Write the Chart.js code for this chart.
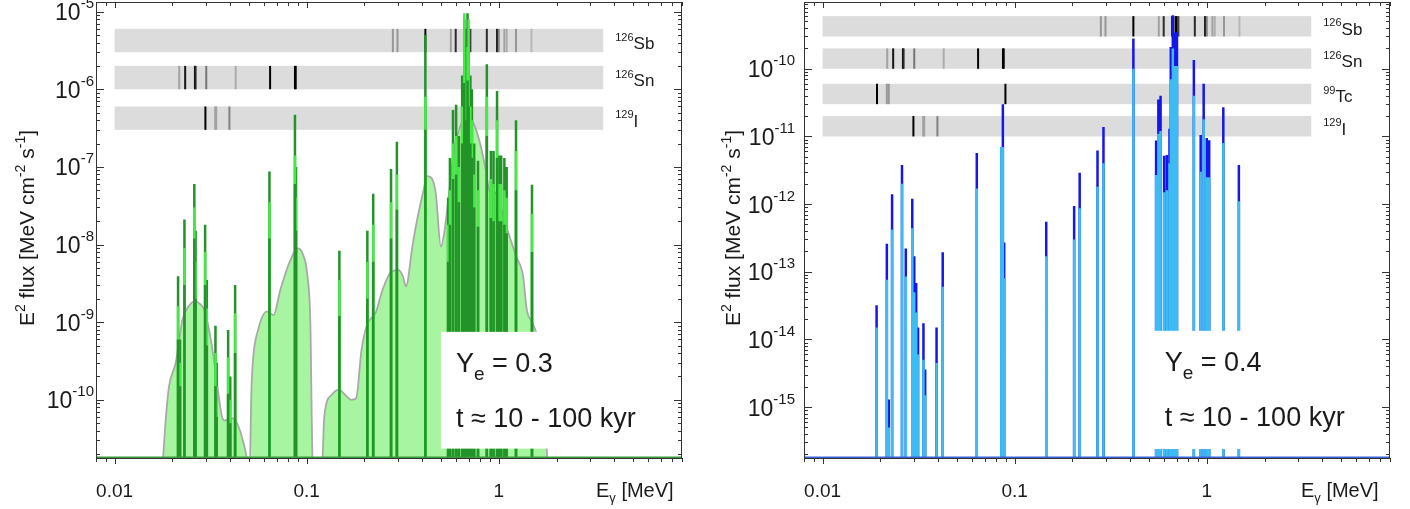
<!DOCTYPE html>
<html>
<head>
<meta charset="utf-8">
<script src="https://cdn.jsdelivr.net/npm/chart.js"></script>
<style>
  body { margin: 0; background: #fff; width: 1410px; height: 509px; overflow: hidden; position: relative; }
  canvas { position: absolute; top: 0; }
  #left { left: 0; }
  #right { left: 705px; }
</style>
</head>
<body>
<canvas id="left" width="705" height="509"></canvas>
<canvas id="right" width="705" height="509"></canvas>

<script>
    // energy axis (MeV), same for both panels
    const xMin = 0.008, xMax = 9;
    const xTickVals = [0.01, 0.1, 1];
    const xTickLabels = ['0.01', '0.1', '1'];

    // isotope marker bands span this energy range
    const bandFrom = 0.01, bandTo = 3.5;

    // gamma lines drawn in the grey bands, with darkness 0..1
    const sb126E = [0.281, 0.297, 0.415, 0.563, 0.597, 0.661, 0.666, 0.688, 0.697, 0.712, 0.867, 0.98, 1.0, 1.07, 1.1, 1.23, 1.48];
    const sb126W = [0.3, 0.3, 1, 0.25, 0.8, 1, 1, 1, 1, 0.7, 0.8, 0.9, 0.4, 0.25, 0.2, 0.3, 0.15];
    const sn126E = [0.0217, 0.0233, 0.0262, 0.0264, 0.0300, 0.0427, 0.0645, 0.0869, 0.0877];
    const sn126W = [0.25, 0.9, 1, 0.8, 0.45, 0.2, 1, 1, 1];
    const tc99E = [0.0192, 0.0216, 0.0221, 0.0895];
    const tc99W = [1, 0.3, 0.3, 1];
    const i129E = [0.0297, 0.0334, 0.0338, 0.0396];
    const i129W = [1, 0.25, 0.25, 0.4];

    // ---- left panel, Ye = 0.3 ----
    const yMinL = 1.78e-11, yMaxL = 1.33e-5;
    const yExpL = [-5, -6, -7, -8, -9, -10];

    // broad (grey outlined) component
    const contE = [0.0178, 0.0185, 0.0192, 0.0208, 0.0225, 0.0243, 0.0262, 0.028, 0.0294, 0.0319, 0.0345, 0.036, 0.0374, 0.04, 0.042, 0.045, 0.048, 0.0497,
        0.0506, 0.0515, 0.0525, 0.0558, 0.062, 0.0672, 0.0729, 0.0812, 0.0894, 0.0952, 0.101, 0.1045, 0.1075, 0.114,
        0.1205, 0.1235, 0.135, 0.147, 0.162, 0.171, 0.181, 0.193, 0.206, 0.23, 0.248, 0.277, 0.3, 0.317, 0.329, 0.355, 0.37, 0.403, 0.424, 0.45, 0.47,
        0.5, 0.52, 0.556, 0.585, 0.63, 0.68, 0.74, 0.8, 0.85, 0.9, 0.95, 1.02, 1.11, 1.23, 1.34, 1.4, 1.5, 1.57, 1.66, 1.74, 1.79];
    const contV = [1.5e-11, 6e-11, 1.5e-10, 3e-10, 1.05e-9, 1.6e-9, 1.85e-9, 1.7e-9, 1.4e-9, 5.4e-10, 1.35e-10, 6.5e-11, 5.4e-11, 5.8e-11, 5.6e-11, 4e-11, 2.2e-11, 1.5e-11,
        1.5e-11, 1.2e-10, 3.2e-10, 7.9e-10, 1.37e-9, 1.24e-9, 2.6e-9, 5.8e-9, 8.9e-9, 7.7e-9, 3.9e-9, 1e-9, 1.5e-11, 1e-11,
        1.5e-11, 6.1e-11, 1.16e-10, 1.35e-10, 1.1e-10, 1e-10, 1.05e-10, 4.4e-10, 9.2e-10, 1.37e-9, 2.6e-9, 4.5e-9, 4.7e-9, 3.9e-9, 2.9e-9, 9.4e-9, 1.7e-8, 4.6e-8, 7.6e-8, 7e-8, 4.6e-8,
        9.4e-9, 1.4e-8, 5.6e-8, 1.66e-7, 3.3e-7, 4.5e-7, 3.6e-7, 2e-7, 1e-7, 4.8e-8, 4.8e-8, 3.1e-8, 1.55e-8, 7.1e-9, 3.9e-9, 1.45e-9, 9.8e-10, 7.2e-10, 3.7e-10, 1e-10, 1.5e-11];

    // narrow lines: dark top, bright middle part, dark lower part
    const lineE = [0.0214, 0.0219, 0.0231, 0.0260, 0.0264, 0.0296, 0.0302, 0.0335, 0.0340, 0.0390, 0.0400, 0.0424, 0.0640, 0.0869, 0.0880,
        0.148, 0.207, 0.222, 0.275, 0.295, 0.415, 0.545, 0.557, 0.578, 0.600, 0.620, 0.645, 0.662, 0.676, 0.688, 0.697, 0.712, 0.725,
        0.745, 0.780, 0.867, 0.910, 0.940, 0.980, 1.000, 1.030, 1.070, 1.100, 1.230, 1.490];
    const lineA = [3.9e-9, 6e-10, 2.1e-8, 6e-8, 1.5e-8, 1.8e-8, 3.5e-9, 9e-10, 3e-10, 7.9e-10, 2e-10, 3e-9, 8.7e-8, 4.7e-7, 1e-7,
        8.3e-9, 1.5e-8, 4.5e-8, 9.4e-8, 2.1e-7, 5e-6, 4e-8, 1.3e-7, 5.4e-7, 6.3e-7, 2.5e-7, 1.5e-6, 8e-6, 3e-6, 9.5e-6, 4e-6, 1.5e-6, 1e-6,
        2e-7, 1.2e-7, 2.1e-6, 1.6e-7, 1.6e-7, 9.5e-7, 1.4e-7, 1.4e-7, 1.3e-7, 1e-7, 4e-7, 5.9e-8];
    const lineB = [1.6e-9, 3e-10, 9e-9, 3e-8, 6e-9, 8e-9, 1.5e-9, 4e-10, 1.5e-10, 3.5e-10, 1e-10, 1.3e-9, 3.5e-8, 1.4e-7, 4e-8,
        3.5e-9, 6e-9, 1.8e-8, 3.5e-8, 8e-8, 8e-7, 1.8e-8, 5e-8, 2e-7, 2.5e-7, 1e-7, 6e-7, 9.5e-6, 1.2e-6, 3.5e-6, 8e-6, 6e-7, 4e-7,
        8e-8, 5e-8, 8e-7, 7e-8, 6e-8, 4e-7, 6e-8, 6e-8, 5e-8, 4e-8, 1.6e-7, 2.5e-8];
    const lineC = [6e-10, 1.5e-10, 3e-9, 1.2e-8, 2e-9, 3e-9, 5e-10, 1.5e-10, 6e-11, 1.2e-10, 5e-11, 4e-10, 1.2e-8, 6e-8, 1.5e-8,
        1.2e-9, 2e-9, 6e-9, 1.2e-8, 2.8e-8, 3e-7, 6e-9, 1.8e-8, 7e-8, 8e-8, 3.5e-8, 2e-7, 1.2e-6, 4e-7, 1.3e-6, 6e-7, 2e-7, 1.3e-7,
        3e-8, 1.7e-8, 2.5e-7, 2.2e-8, 2e-8, 1.3e-7, 2e-8, 2e-8, 1.8e-8, 1.4e-8, 5e-8, 8e-9];

    // ---- right panel, Ye = 0.4 ----
    const yMinR = 1.77e-16, yMaxR = 9.7e-10;
    const yExpR = [-10, -11, -12, -13, -14, -15];

    const rLineE = [0.0191, 0.0216, 0.0221, 0.0230, 0.0259, 0.0271, 0.0293, 0.0300, 0.0307, 0.0314, 0.0335, 0.0342, 0.0392, 0.0422,
        0.0635, 0.0852, 0.0868, 0.0882, 0.146, 0.204, 0.218, 0.270, 0.290, 0.415, 0.545, 0.560, 0.575, 0.600, 0.620, 0.640,
        0.650, 0.666, 0.680, 0.700, 0.857, 0.930, 0.964, 1.000, 1.030, 1.220, 1.470];
    const rLineTop = [3.2e-14, 2.6e-13, 1.3e-15, 1.4e-12, 3.8e-12, 2.2e-13, 1.2e-12, 1.7e-13, 6.8e-14, 1.5e-14, 1.74e-14, 3.6e-15, 1.5e-14, 1.95e-13,
        5.7e-12, 7e-12, 3e-11, 2.7e-13, 5.5e-13, 9.4e-13, 2.9e-12, 6.2e-12, 1.38e-11, 2.8e-10, 8.7e-12, 3.5e-11, 4e-11, 5.2e-12, 5.3e-12, 1.3e-11,
        2.1e-10, 6.2e-10, 3.4e-10, 3.5e-10, 1.35e-10, 1.05e-11, 6e-11, 9.5e-12, 8.8e-12, 2.7e-11, 3.8e-12];
    const rLineMid = [1.5e-14, 7.6e-14, 5e-16, 4.2e-13, 2e-12, 8.5e-14, 4.4e-13, 5e-14, 2.5e-14, 6e-15, 5e-15, 1.5e-15, 4.5e-15, 6e-14,
        1.7e-12, 7e-12, 7e-12, 8e-14, 1.7e-13, 3e-13, 8.7e-13, 1.8e-12, 4e-12, 1e-10, 2.7e-12, 1.1e-11, 1.2e-11, 1.5e-12, 1.6e-12, 4e-12,
        7e-11, 2e-10, 1.1e-10, 1.1e-10, 4e-11, 3e-12, 1.8e-11, 2.5e-12, 2.5e-12, 8e-12, 1.1e-12];

    const FONT = '"Liberation Sans", Arial, Helvetica, sans-serif';
    const INK = '#1a1a1a';

    // vertical sticks from the floor up to each value
    function sticks(es, vals, floor) {
        const pts = [];
        es.forEach((e, i) => {
            pts.push({x: e, y: floor}, {x: e, y: vals[i]}, {x: e, y: null});
        });
        return pts;
    }

    function stickSet(data, color) {
        return {data: data, borderColor: color, borderWidth: 2.5, pointRadius: 0, fill: false, tension: 0, spanGaps: false, borderCapStyle: 'butt'};
    }

    // text made of runs, some raised or lowered
    function richWidth(ctx, parts) {
        let w = 0;
        parts.forEach(p => { ctx.font = p.s + 'px ' + FONT; w += ctx.measureText(p.t).width; });
        return w;
    }
    function drawRich(ctx, parts, x, y) {
        ctx.fillStyle = INK;
        ctx.textAlign = 'left';
        ctx.textBaseline = 'alphabetic';
        parts.forEach(p => {
            ctx.font = p.s + 'px ' + FONT;
            ctx.fillText(p.t, x, y + (p.dy || 0));
            x += ctx.measureText(p.t).width;
        });
    }

    function logTicks(min, max) {
        const major = [], minor = [];
        for (let k = Math.floor(Math.log10(min)); k <= Math.ceil(Math.log10(max)); k++) {
            for (let m = 1; m < 10; m++) {
                const v = m * Math.pow(10, k);
                if (v < min * 0.999 || v > max * 1.001) continue;
                (m === 1 ? major : minor).push(v);
            }
        }
        return {major, minor};
    }

    function decor(p) {
        return {
            id: 'decor',
            beforeDatasetsDraw(chart) {
                const {ctx, scales: {x, y}} = chart;
                const x0 = x.getPixelForValue(bandFrom), x1 = x.getPixelForValue(bandTo);
                ctx.save();
                p.bands.forEach(b => {
                    const yt = y.getPixelForValue(b.hi), yb = y.getPixelForValue(b.lo);
                    ctx.fillStyle = '#dcdcdc';
                    ctx.fillRect(x0, yt, x1 - x0, yb - yt);
                    b.e.forEach((e, i) => {
                        const g = Math.round(215 * (1 - b.w[i]));
                        ctx.strokeStyle = 'rgb(' + g + ',' + g + ',' + g + ')';
                        ctx.lineWidth = 2;
                        const px = x.getPixelForValue(e);
                        ctx.beginPath();
                        ctx.moveTo(px, yt);
                        ctx.lineTo(px, yb);
                        ctx.stroke();
                    });
                    drawRich(ctx, [{t: b.mass, s: 11, dy: -8.5}, {t: b.el, s: 17}], x1 + 12, (yt + yb) / 2 + 8.5);
                });
                ctx.restore();
            },
            afterDatasetsDraw(chart) {
                const {ctx, chartArea: a, scales: {x, y}} = chart;
                ctx.save();

                // label box
                const bx0 = x.getPixelForValue(p.box.x0), bx1 = x.getPixelForValue(p.box.x1);
                const byTop = y.getPixelForValue(p.box.y1), byBot = y.getPixelForValue(p.box.y0);
                ctx.fillStyle = '#fff';
                ctx.fillRect(bx0, byTop, bx1 - bx0, byBot - byTop);
                drawRich(ctx, [{t: 'Y', s: 27}, {t: 'e', s: 19, dy: 8}, {t: ' = ' + p.ye, s: 27}], bx0 + 15, byTop + 40);
                drawRich(ctx, [{t: 't \u2248 10 - 100 kyr', s: 27}], bx0 + 15, byTop + 95);

                // frame
                ctx.strokeStyle = '#333';
                ctx.lineWidth = 1;
                ctx.strokeRect(a.left + 0.5, a.top + 0.5, a.right - a.left - 1, a.bottom - a.top);

                // ticks
                const tx = logTicks(xMin, xMax), ty = logTicks(p.yMin, p.yMax);
                ctx.beginPath();
                [[tx.major, 6], [tx.minor, 4]].forEach(([vals, len]) => {
                    vals.forEach(v => {
                        const px = Math.round(x.getPixelForValue(v)) + 0.5;
                        ctx.moveTo(px, a.bottom); ctx.lineTo(px, a.bottom + len);
                        ctx.moveTo(px, a.top); ctx.lineTo(px, a.top + len);
                    });
                });
                [[ty.major, 8], [ty.minor, 4]].forEach(([vals, len]) => {
                    vals.forEach(v => {
                        const py = Math.round(y.getPixelForValue(v)) + 0.5;
                        ctx.moveTo(a.left, py); ctx.lineTo(a.left + len, py);
                        ctx.moveTo(a.right, py); ctx.lineTo(a.right - len, py);
                    });
                });
                ctx.stroke();

                // x tick labels
                ctx.fillStyle = INK;
                ctx.font = '19px ' + FONT;
                ctx.textAlign = 'center';
                ctx.textBaseline = 'alphabetic';
                xTickVals.forEach((v, i) => {
                    ctx.fillText(xTickLabels[i], x.getPixelForValue(v), 497);
                });

                // y tick labels as powers of ten
                p.yExp.forEach(k => {
                    const py = y.getPixelForValue(Math.pow(10, k));
                    const parts = [{t: '10', s: 23}, {t: String(k), s: 15, dy: -12}];
                    const w = richWidth(ctx, parts);
                    drawRich(ctx, parts, p.labelRight - w, py + 8.5);
                });

                // axis titles
                drawRich(ctx, [{t: 'E', s: 20}, {t: '\u03b3', s: 13, dy: 5}, {t: ' [MeV]', s: 20}], 596, 497);
                const yt = [{t: 'E', s: 21}, {t: '2', s: 14, dy: -9}, {t: ' flux [MeV cm', s: 21}, {t: '-2', s: 14, dy: -9},
                    {t: ' s', s: 21}, {t: '-1', s: 14, dy: -9}, {t: ']', s: 21}];
                const tw = richWidth(ctx, yt);
                ctx.translate(p.titleX, 228);
                ctx.rotate(-Math.PI / 2);
                drawRich(ctx, yt, -tw / 2, 0);
                ctx.restore();
            }
        };
    }

    function makePanel(id, p, datasets) {
        new Chart(document.getElementById(id), {
            type: 'line',
            data: {datasets: datasets},
            options: {
                responsive: false,
                animation: false,
                events: [],
                layout: {padding: p.pad},
                plugins: {legend: {display: false}, tooltip: {enabled: false}},
                scales: {
                    x: {type: 'logarithmic', min: xMin, max: xMax, display: false},
                    y: {type: 'logarithmic', min: p.yMin, max: p.yMax, display: false}
                }
            },
            plugins: [decor(p)]
        });
    }

    // left: first dataset is drawn on top
    makePanel('left', {
        pad: {left: 96, right: 23, top: 2, bottom: 51},
        yMin: yMinL, yMax: yMaxL, yExp: yExpL, labelRight: 94, titleX: 34, ye: '0.3',
        box: {x0: 0.5, x1: 3.5, y0: 2.35e-11, y1: 7.5e-10},
        bands: [
            {mass: '126', el: 'Sb', lo: 3e-6, hi: 6e-6, e: sb126E, w: sb126W},
            {mass: '126', el: 'Sn', lo: 1e-6, hi: 2e-6, e: sn126E, w: sn126W},
            {mass: '129', el: 'I', lo: 3e-7, hi: 6e-7, e: i129E, w: i129W}
        ]
    }, [
        {data: [{x: xMin, y: yMinL}, {x: xMax, y: yMinL}], borderColor: '#3a9a3a', borderWidth: 3, pointRadius: 0, fill: false},
        stickSet(sticks(lineE, lineC, yMinL), '#229229'),
        stickSet(sticks(lineE, lineB, yMinL), '#45ea45'),
        stickSet(sticks(lineE, lineA, yMinL), '#229229'),
        {
            data: contE.map((e, i) => ({x: e, y: contV[i]})),
            borderColor: '#a9a9a9', borderWidth: 1.8, backgroundColor: '#a7f5a0',
            fill: 'start', pointRadius: 0, cubicInterpolationMode: 'monotone'
        }
    ]);

    makePanel('right', {
        pad: {left: 99, right: 20, top: 2, bottom: 51},
        yMin: yMinR, yMax: yMaxR, yExp: yExpR, labelRight: 90, titleX: 35, ye: '0.4',
        box: {x0: 0.505, x1: 3.5, y0: 2.4e-16, y1: 1.34e-14},
        bands: [
            {mass: '126', el: 'Sb', lo: 3e-10, hi: 6e-10, e: sb126E, w: sb126W},
            {mass: '126', el: 'Sn', lo: 1e-10, hi: 2e-10, e: sn126E, w: sn126W},
            {mass: '99', el: 'Tc', lo: 3e-11, hi: 6e-11, e: tc99E, w: tc99W},
            {mass: '129', el: 'I', lo: 1e-11, hi: 2e-11, e: i129E, w: i129W}
        ]
    }, [
        {data: [{x: xMin, y: yMinR}, {x: xMax, y: yMinR}], borderColor: '#3a62d8', borderWidth: 3, pointRadius: 0, fill: false},
        stickSet(sticks(rLineE, rLineMid, yMinR), '#3cbcf2'),
        stickSet(sticks(rLineE, rLineTop, yMinR), '#1515ee')
    ]);
</script>
</body>
</html>
